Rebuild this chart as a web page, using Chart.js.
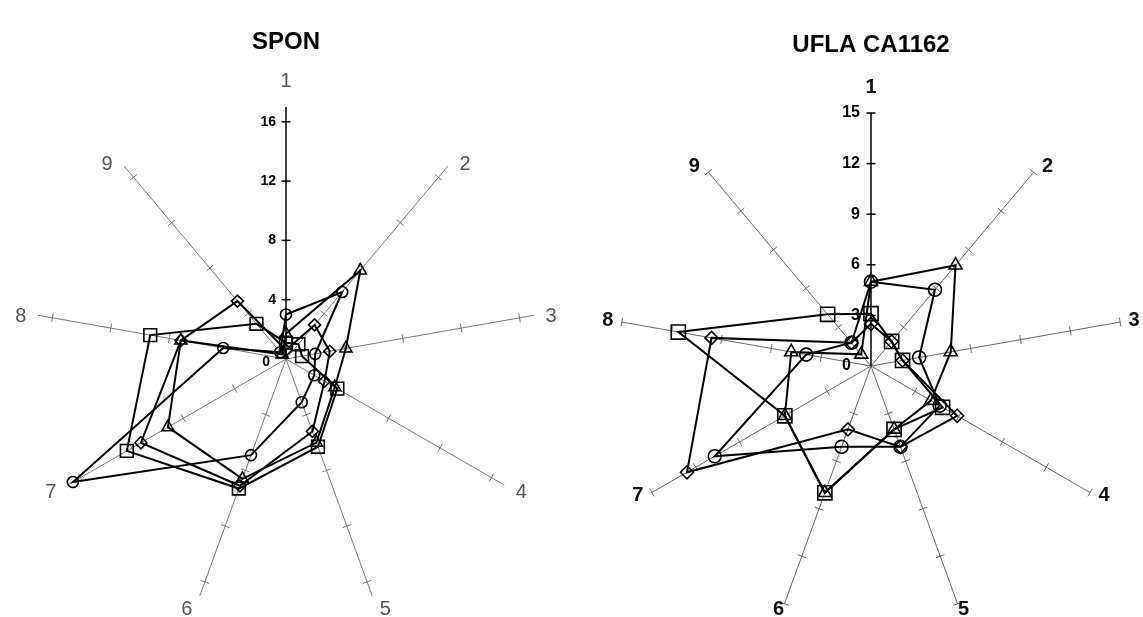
<!DOCTYPE html>
<html>
<head>
<meta charset="utf-8">
<script src="https://cdn.jsdelivr.net/npm/chart.js@4.4.0/dist/chart.umd.min.js"></script>
<style>
  html, body { margin: 0; padding: 0; background: #fff; overflow: hidden; }
  .box { position: absolute; top: 0; width: 572px; height: 660px; }
</style>
</head>
<body>
<div class="box" style="left:0"><canvas id="sponChart" width="572" height="660"></canvas></div>
<div class="box" style="left:571px"><canvas id="uflaChart" width="572" height="660"></canvas></div>
<script>
const axisLabels = ['1', '2', '3', '4', '5', '6', '7', '8', '9'];

// SPON
const sponTicks = [0, 4, 8, 12, 16];
const sponCircle   = [3.0, 5.9, 2.0, 2.2, 3.1, 6.9, 16.6, 4.3, 0.6];
const sponTriangle = [1.7, 7.8, 4.1, 3.8, 6.0, 8.6, 9.2, 7.2, 0.4];
const sponDiamond  = [0.6, 3.0, 3.0, 3.0, 5.2, 9.1, 11.3, 7.2, 5.1];
const sponSquare   = [1.1, 1.3, 1.1, 4.0, 6.3, 9.3, 12.4, 9.3, 3.1];

// UFLA CA1162
const uflaTicks = [0, 3, 6, 9, 12, 15];
const uflaCircle   = [5.0, 5.9, 2.9, 4.7, 5.1, 5.1, 10.7, 3.9, 1.8];
const uflaTriangle = [5.0, 7.8, 4.8, 4.1, 4.0, 8.0, 5.9, 4.8, 0.9];
const uflaDiamond  = [2.5, 1.9, 1.9, 5.9, 5.1, 4.0, 12.6, 9.6, 1.8];
const uflaSquare   = [3.1, 1.9, 1.9, 4.9, 4.0, 8.0, 5.9, 11.6, 4.0];

// spokes ticks, tick labels and axis numbers
const axisDecor = {
    id: 'axisDecor',
    beforeDatasetsDraw(chart, args, o) {
        const s = chart.scales.r;
        const ctx = chart.ctx;
        const n = chart.data.labels.length;
        ctx.save();
        for (let i = 0; i < n; i++) {
            const a = s.getIndexAngle(i) - Math.PI / 2;
            const px = -Math.sin(a), py = Math.cos(a);
            ctx.strokeStyle = i === 0 ? '#000' : o.spokeColor;
            ctx.lineWidth = i === 0 ? 1.5 : 1;
            o.marks.forEach(v => {
                const p = s.getPointPositionForValue(i, v);
                ctx.beginPath();
                ctx.moveTo(p.x - px * 4.5, p.y - py * 4.5);
                ctx.lineTo(p.x + px * 4.5, p.y + py * 4.5);
                ctx.stroke();
            });
        }
        ctx.fillStyle = '#000';
        ctx.font = o.tickFont;
        ctx.textAlign = 'right';
        ctx.textBaseline = 'middle';
        o.ticks.forEach(v => {
            const p = s.getPointPositionForValue(0, v);
            if (v === 0) {
                ctx.fillText('0', p.x + o.zeroDx, p.y + o.zeroDy);
            } else {
                ctx.fillText(String(v), p.x - o.tickGap, p.y);
            }
        });
        ctx.font = o.labelFont;
        ctx.fillStyle = o.labelColor;
        ctx.textAlign = 'center';
        for (let i = 0; i < n; i++) {
            const a = s.getIndexAngle(i) - Math.PI / 2;
            const dx = Math.cos(a), dy = Math.sin(a);
            const end = s.getPointPositionForValue(i, s.max);
            const h = dy > 0.9 ? o.hxLow : o.hx;
            let x = end.x, y;
            if (dx > 0.3) x += h;
            if (dx < -0.3) x -= h;
            if (dy < -0.95) {
                y = end.y - 26;
            } else if (dy > 0) {
                y = end.y + dy * o.down;
            } else {
                y = end.y + dy * o.up + o.c;
            }
            ctx.fillText(chart.data.labels[i], x, y);
        }
        ctx.restore();
    }
};

function series(data, style, radius) {
    return {
        data: data,
        borderColor: '#000',
        borderWidth: 2,
        backgroundColor: 'rgba(0,0,0,0)',
        fill: false,
        tension: 0,
        pointStyle: style,
        pointRadius: radius,
        pointBorderColor: '#000',
        pointBorderWidth: 1.6,
        pointBackgroundColor: 'rgba(0,0,0,0)'
    };
}

function radarOptions(max, titleText, pad, titlePad, decor) {
    return {
        responsive: false,
        animation: false,
        layout: { padding: pad },
        elements: { line: { tension: 0 } },
        scales: {
            r: {
                min: 0,
                max: max,
                startAngle: 0,
                grid: { display: false },
                ticks: { display: false },
                pointLabels: { display: false },
                angleLines: {
                    display: true,
                    color: ctx => ctx.index === 0 ? '#000' : decor.spokeColor,
                    lineWidth: ctx => ctx.index === 0 ? 1.5 : 1
                }
            }
        },
        plugins: {
            legend: { display: false },
            tooltip: { enabled: false },
            title: {
                display: true,
                text: titleText,
                color: '#000',
                font: { family: 'Liberation Sans, Arial, sans-serif', size: 24, weight: 'bold' },
                padding: titlePad
            },
            axisDecor: decor
        }
    };
}

new Chart(document.getElementById('sponChart'), {
    type: 'radar',
    data: {
        labels: axisLabels,
        datasets: [
            series(sponCircle, 'circle', 5.5),
            series(sponTriangle, 'triangle', 7),
            series(sponDiamond, 'rectRot', 6),
            series(sponSquare, 'rect', 9)
        ]
    },
    options: radarOptions(17, 'SPON',
        { left: 34, right: 34, top: 0, bottom: 49 },
        { top: 28, bottom: 50.2 },
        {
            spokeColor: '#777',
            marks: [4, 8, 12, 16],
            ticks: sponTicks,
            tickFont: 'bold 14px "Liberation Sans", Arial, sans-serif',
            tickGap: 10,
            zeroDx: -16,
            zeroDy: 3,
            labelFont: '20px "Liberation Sans", Arial, sans-serif',
            labelColor: '#555',
            hx: 17, hxLow: 13, down: 15, up: 5, c: 2
        }),
    plugins: [axisDecor]
});

new Chart(document.getElementById('uflaChart'), {
    type: 'radar',
    data: {
        labels: axisLabels,
        datasets: [
            series(uflaCircle, 'circle', 6.5),
            series(uflaTriangle, 'triangle', 7.5),
            series(uflaDiamond, 'rectRot', 6.5),
            series(uflaSquare, 'rect', 10)
        ]
    },
    options: radarOptions(15, 'UFLA CA1162',
        { left: 47, right: 19, top: 0, bottom: 41 },
        { top: 31, bottom: 53.2 },
        {
            spokeColor: '#666',
            marks: [3, 6, 9, 12, 15],
            ticks: uflaTicks,
            tickFont: 'bold 16px "Liberation Sans", Arial, sans-serif',
            tickGap: 11,
            zeroDx: -20,
            zeroDy: 0,
            labelFont: 'bold 20px "Liberation Sans", Arial, sans-serif',
            labelColor: '#111',
            hx: 14, hxLow: 6, down: 6, up: 7, c: 0
        }),
    plugins: [axisDecor]
});
</script>
</body>
</html>
